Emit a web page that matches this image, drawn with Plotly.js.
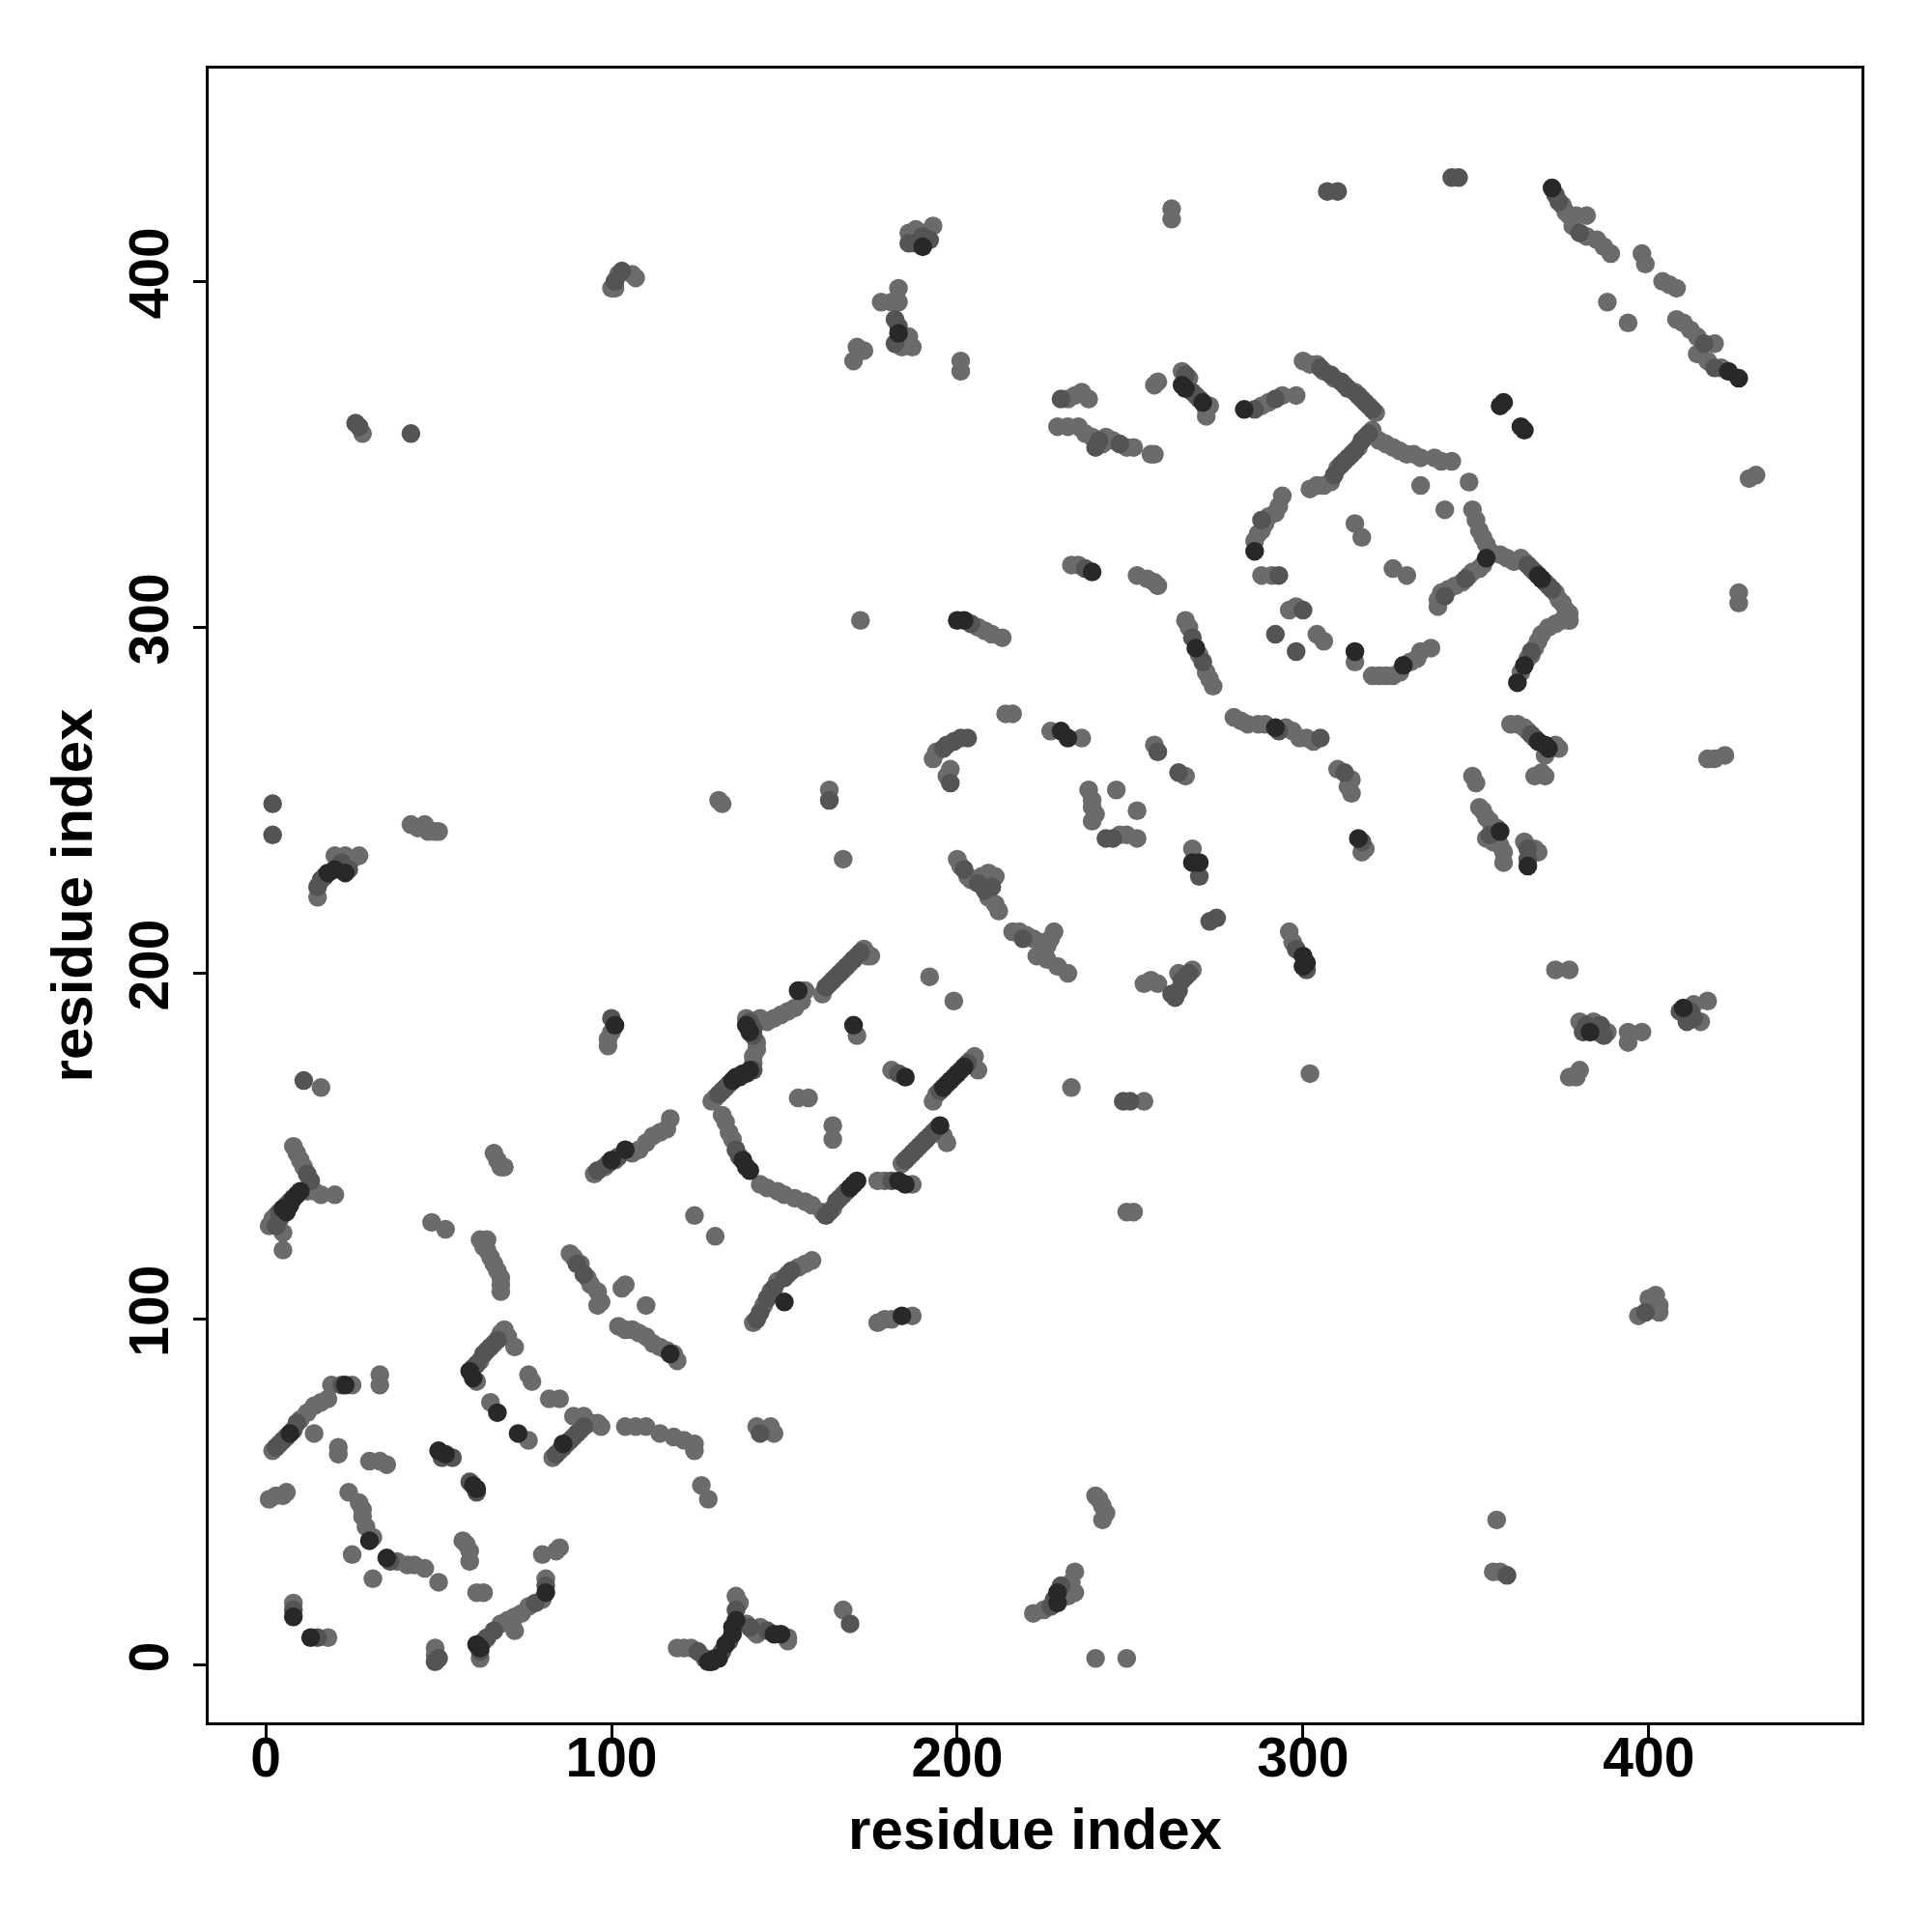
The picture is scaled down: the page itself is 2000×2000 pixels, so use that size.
<!DOCTYPE html>
<html>
<head>
<meta charset="utf-8">
<script src="https://cdn.plot.ly/plotly-3.0.1.min.js"></script>
<style>html,body{margin:0;padding:0;background:#fff;}</style>
</head>
<body>
<div id="chart" style="width:2000px;height:2000px;"></div>
<script>
// residue index pairs [i, j], grouped by point shade
const lightContacts = [
[1,127],[2,129],[3,130],[5,125],[5,120],[8,150],[9,148],[10,146],[12,137],[14,137],[16,136],[20,136],[11,144],
[16,167],[48,128],[52,126],
[62,123],[64,123],[63,121],[64,120],[65,118],[66,116],[67,114],[68,112],[68,110],[68,108],
[124,130],[130,124],
[88,119],[89,118],[91,116],[93,112],[94,110],[96,108],[97,105],[96,104],[103,109],[104,110],[110,104],[102,98],[104,97],[106,97],[108,96],[110,95],[112,93],[114,92],[116,91],[118,90],[119,88],
[2,62],[14,75],[16,76],[18,77],[19,81],[25,81],[33,84],[33,81],[14,67],[21,63],[21,61],[10,71],[12,73],
[1,48],[3,49],[5,49],[6,50],[30,59],[33,59],[35,58],
[24,50],[27,47],[28,45],[28,43],[29,40],[31,37],[25,32],
[38,30],[41,29],[43,29],[46,28],[50,24],[31,25],
[57,36],[58,35],[59,33],[59,30],[61,21],[63,21],[8,18],[18,8],[49,5],[49,3],
[68,12],[70,13],[72,14],[74,15],[76,17],[80,19],[81,25],[62,2],[72,10],[80,32],[84,33],[85,34],
[104,69],[107,69],[110,69],[114,67],[118,66],[121,65],[124,64],[124,62],[126,52],[128,48],
[76,84],[77,82],[82,77],[85,77],[65,76],[76,65],
[83,60],[85,62],[87,64],[89,66],[91,68],[94,70],[96,70],[97,69],[89,72],[92,72],
[60,86],[62,88],[64,91],[66,93],[68,96],[69,97],[70,95],[72,92],[61,82],
[66,148],[67,146],[68,144],[69,144],
[95,142],[98,144],[101,146],[106,148],[108,149],[110,151],[112,153],[114,154],[116,155],[117,158],
[143,139],[145,138],[148,137],[150,136],[153,135],[156,134],[158,133],[161,131],[164,132],[166,135],
[177,140],[179,140],[187,139],[249,131],[251,131],
[141,99],[144,104],[146,108],[148,111],[151,113],[154,115],[156,116],[158,117],
[177,99],[179,100],[181,100],[187,101],
[142,69],[147,67],[146,69],[167,16],
[141,10],[143,11],[151,7],[151,8],
[240,49],[241,48],[242,46],[243,44],[242,42],
[222,15],[225,16],[233,24],[234,27],[234,21],[232,20],[240,2],[249,2],
[119,5],[121,5],[123,5],[136,20],[137,18],[139,12],[142,9],
[397,101],[400,106],[402,107],[403,104],[403,102],[356,42],[355,27],[357,27],
[42,243],[44,242],[46,243],[47,241],[49,241],[50,241],
[15,222],[27,234],[25,233],[23,234],[20,234],
[131,250],[132,249],[100,183],[99,181],[99,179],
[172,302],[206,300],[208,299],[210,298],[213,297],
[266,302],[267,300],[270,292],[272,287],[273,285],[274,283],
[214,275],[216,275],[193,262],[194,264],[198,259],[197,257],
[227,270],[236,268],[163,253],[167,233],
[238,253],[239,250],[239,248],[240,246],[239,244],[246,253],[252,247],[247,240],[249,240],[252,239],
[257,266],[266,257],[268,236],[302,171],[296,212],[297,209],
[200,233],[201,231],[203,228],[204,227],[207,228],[209,229],[211,228],[209,222],[211,220],[212,218],
[216,212],[218,212],[220,211],[222,210],[224,209],[226,208],[227,210],[228,212],[223,205],[226,204],[229,202],[232,200],
[192,199],[199,192],
[254,197],[256,198],[258,197],[264,200],[268,201],
[161,194],[163,197],[165,199],[167,201],[169,203],[171,205],[173,207],[174,205],[175,205],[156,195],
[171,182],[181,172],
[193,163],[194,165],[204,175],[206,172],[205,176],
[154,164],[157,164],[164,156],[164,152],[233,167],[254,163],
[184,145],[186,147],[188,149],[190,151],[192,153],[194,155],[196,153],[197,151],
[139,187],[141,186],[143,187],[145,186],[147,187],[149,188],[151,189],[153,190],[155,192],[142,180],[142,178],[141,176],[141,174],
[129,163],[130,164],[132,159],[133,157],[134,154],[135,152],
[280,274],[282,273],[284,272],[287,272],[289,272],[295,271],[297,270],[299,268],[301,268],[303,267],
[304,298],[306,296],[315,290],
[320,286],[322,286],[324,286],[326,286],[328,287],[331,290],[333,291],[334,293],[337,294],
[363,287],[365,291],[366,292],[367,294],[368,296],[369,298],[371,300],[373,301],[375,302],[377,302],
[310,259],[314,256],[313,254],[314,252],[318,236],[317,235],[349,257],[350,255],
[351,248],[352,247],[353,245],[354,244],[356,242],[353,239],[355,238],[357,237],[358,235],[358,232],
[364,238],[367,236],[368,235],
[360,272],[362,272],[364,271],[365,270],[373,266],[374,265],[370,263],[369,258],[367,257],[370,257],
[417,262],[419,262],[422,263],[373,201],[377,201],
[380,186],[384,186],[388,183],[394,183],[398,183],[394,180],[377,170],[379,170],[380,172],
[417,192],[413,191],[415,186],
[193,416],[188,415],[190,414],[186,414],
[178,394],[181,394],[183,394],[183,398],[186,384],[184,381],[187,381],
[171,381],[173,380],[170,377],[201,377],[201,374],[262,421],[262,418],
[232,366],[234,367],[236,368],[238,366],
[229,358],[232,358],[235,358],[237,356],[239,355],[243,355],[245,354],[249,352],[251,352],[242,353],
[256,350],[257,350],[257,370],[258,371],
[265,374],[267,372],[269,367],[272,363],[272,361],[273,364],
[288,364],[290,365],[294,367],[298,367],
[294,338],[293,335],[292,333],[290,332],[289,330],[288,328],[287,327],[286,325],
[288,315],[291,315],[296,305],[298,306],
[233,318],[235,318],[252,315],[255,314],[257,313],[258,312],
[375,422],[376,420],[377,419],[379,419],[382,419],[378,416],[382,413],[385,412],[387,410],[389,408],[398,408],[399,405],[404,400],[406,399],[408,398],[408,389],[410,388],[412,386],[414,384],[419,382],[414,379],[417,377],[421,375],
[388,394],[394,388],[429,343],[431,344],[426,310],[426,307],
[300,377],[302,376],[304,376],[306,374],[309,372],[312,370],[315,368],[317,366],[319,364],[321,362],
[320,357],[318,355],[316,352],[314,350],[312,348],[310,346],[308,342],[306,341],[304,341],[302,340],
[322,354],[324,353],[326,352],[328,351],[330,350],[332,350],[334,349],[338,349],[340,348],[343,348],
[334,341],[341,334],[348,342],[315,330],[317,326],[326,317],[330,315],
[349,334],[350,331],[351,328],[352,326],[353,324],[354,322],[352,318],[351,317],[349,316],[348,315],[346,313],[344,312],[342,311],[340,310],[339,308],[339,306],
[357,321],[359,320],[361,319],[363,320],[364,319],[373,310],[374,308],[375,307],[376,305],[377,304],[377,302],
[100,398],[101,398],[102,402],[106,402],[107,401],[28,356]
];
const midContacts = [
[4,131],[6,133],[7,134],[12,142],[13,140],[3,127],[4,129],[11,169],
[90,116],[92,113],
[3,63],[4,64],[6,66],[8,68],[9,70],[5,65],[22,81],
[36,30],[54,60],[51,60],[59,53],[61,50],[8,16],[15,8],[49,1],[50,2],
[63,7],[64,8],[66,10],[78,18],[81,23],[62,4],
[84,61],[86,63],[88,65],[90,67],[92,69],
[61,87],[63,90],[65,92],[67,94],
[96,143],[99,145],[102,147],
[162,130],[163,131],[165,134],[167,136],[168,137],[181,140],
[142,100],[143,102],[145,106],[147,109],[150,112],[152,114],
[143,67],[169,12],[145,10],
[227,17],[228,19],[230,23],
[125,4],[127,2],[132,4],[134,7],[136,16],[140,11],
[399,102],[359,26],[2,249],[2,240],
[15,225],[16,227],[17,228],[21,231],[22,232],[24,230],[100,187],
[204,301],[268,297],[271,290],[292,298],[298,293],
[196,265],[197,266],[199,267],[201,268],[203,268],[198,255],
[163,250],[243,239],[245,239],[258,264],[264,258],[270,228],[273,215],[275,216],[298,207],[301,201],
[202,230],[206,226],[208,224],[210,225],[219,210],
[262,194],[263,193],[264,195],[265,198],[266,199],[267,200],
[162,196],[164,198],[166,200],[168,202],[170,204],[172,206],
[183,171],[195,166],[197,168],[199,170],[201,172],[203,174],[248,163],[250,163],
[185,146],[187,148],[189,150],[191,152],[193,154],
[140,186],[141,184],[141,182],[141,172],
[131,165],[132,166],[133,167],[134,168],[136,149],[137,147],
[293,270],[305,268],[366,293],[312,258],[317,238],[354,240],[365,236],[365,233],[366,269],[367,268],
[381,183],[382,185],[385,183],[386,185],[387,182],[409,189],[412,189],[413,187],[411,186],
[186,411],[188,411],[192,412],[190,413],[182,389],[183,387],[182,382],
[230,366],[241,354],[247,353],[240,352],[266,373],[268,368],[270,366],[286,363],[292,366],[288,331],[293,315],[300,305],[237,317],
[307,426],[310,426],[343,430],[345,430],
[373,425],[374,423],[380,414],[416,382],[419,375],
[305,375],[308,373],[311,371],[313,369],[316,367],[318,365],[320,363],
[319,356],[317,354],[315,351],[313,349],[311,347],[309,344],
[347,314],[341,309],[365,318],[366,317],[367,316],[370,313],[371,312],[372,311],
[101,400],[103,403],[26,359],[27,358],[42,356]
];
const darkContacts = [
[5,132],[8,135],[9,136],[10,137],[6,131],[7,133],[117,90],
[7,67],[23,81],[30,36],[35,31],[50,62],[52,61],[60,52],[61,51],[8,14],[13,8],
[61,6],[62,5],[81,21],[67,73],[73,67],[86,64],[59,85],[60,83],[104,149],[100,146],
[169,138],[170,139],[171,140],[185,139],[183,140],[150,105],[184,101],[147,9],[149,9],[229,18],[229,21],
[128,1],[129,1],[130,2],[131,2],[133,6],[135,9],[135,11],[136,13],
[18,229],[20,230],[23,229],[101,185],
[200,302],[202,302],[269,294],[230,270],[232,268],[268,232],[270,232],[300,205],[301,203],[300,202],
[154,195],[170,185],[185,170],[196,167],[198,169],[200,171],[202,173],[195,156],
[139,185],[140,183],[135,169],[136,170],[137,170],[138,171],[139,171],[140,172],[138,146],[139,144],[140,143],
[292,271],[315,293],[329,289],[362,284],[364,289],[316,239],[357,241],[365,231],[368,267],[370,266],[371,265],
[383,183],[410,190],[190,410],[183,385],[265,370],[266,369],[271,365],[283,363],[286,322],[239,316],
[372,427],[423,374],[426,372],[357,364],[358,365],[363,358],[364,357],[353,320],[368,315],[369,314]
];

const shades = [
  {name: 'light', pairs: lightContacts, color: '#6b6b6b'},
  {name: 'mid', pairs: midContacts, color: '#545454'},
  {name: 'dark', pairs: darkContacts, color: '#282828'}
];

const traces = shades.map(s => ({
  type: 'scatter',
  mode: 'markers',
  name: s.name,
  x: s.pairs.map(p => p[0]),
  y: s.pairs.map(p => p[1]),
  marker: {size: 19.5, color: s.color, line: {width: 0}},
  hoverinfo: 'x+y'
}));

const tickFont = {family: 'Liberation Sans, Arial, sans-serif', size: 57, color: '#000', weight: 700};
const titleFont = {family: 'Liberation Sans, Arial, sans-serif', size: 60, color: '#000', weight: 700};

const axisCommon = {
  range: [-16.5, 461.5],
  tickvals: [0, 100, 200, 300, 400],
  ticktext: ['0', '100', '200', '300', '400'],
  ticks: 'outside',
  ticklen: 13,
  tickwidth: 3,
  tickcolor: '#000',
  showline: true,
  mirror: true,
  linecolor: '#000',
  linewidth: 3,
  showgrid: false,
  zeroline: false,
  automargin: false,
  tickfont: tickFont
};

const layout = {
  width: 2000,
  height: 2000,
  showlegend: false,
  paper_bgcolor: '#fff',
  plot_bgcolor: '#fff',
  margin: {l: 216, r: 73, t: 71, b: 217},
  xaxis: Object.assign({}, axisCommon, {
    ticklabelstandoff: -28,
    title: {text: 'residue index', font: titleFont, standoff: 22}
  }),
  yaxis: Object.assign({}, axisCommon, {
    tickangle: -90,
    ticklabelstandoff: 3,
    title: {text: 'residue index', font: titleFont, standoff: 8}
  })
};

Plotly.newPlot('chart', traces, layout, {displayModeBar: false, staticPlot: true});
</script>
</body>
</html>
